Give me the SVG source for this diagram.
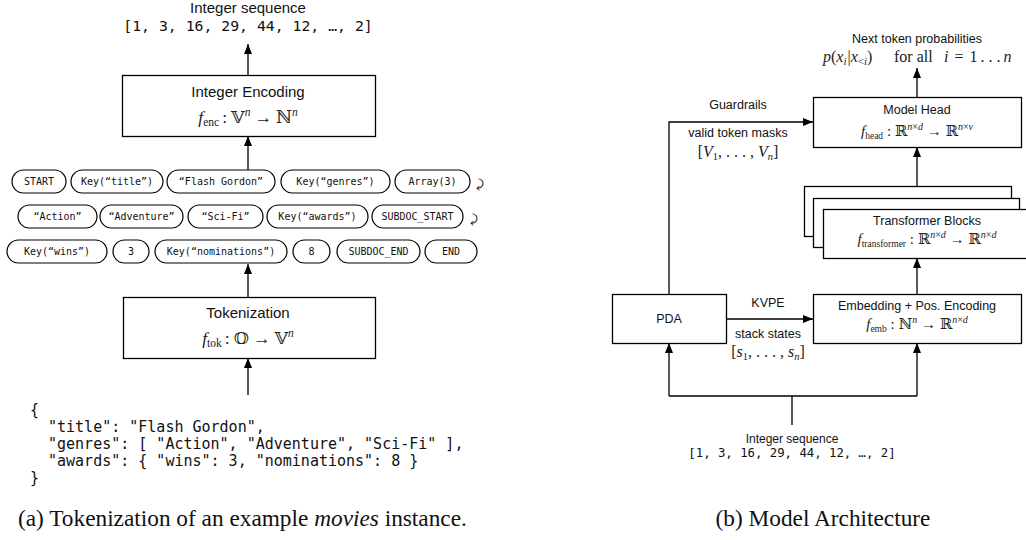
<svg xmlns="http://www.w3.org/2000/svg" width="1026" height="540" viewBox="0 0 1026 540">
  <style>
    .box { fill: #fff; stroke: #000; stroke-width: 1.3; }
    .pill { fill: #fff; stroke: #000; stroke-width: 1.2; }
    .ln { fill: none; stroke: #000; stroke-width: 1.3; }
    .arr { fill: none; stroke: #000; stroke-width: 1.3; marker-end: url(#ah); }
    .lbl { font-family: "Liberation Sans", Arial, sans-serif; fill: #111; text-anchor: middle; }
    .big { font-size: 15px; }
    .sm { font-size: 12.5px; }
    .mono { font-family: "DejaVu Sans Mono", "Liberation Mono", monospace; fill: #111; }
    .tok { font-family: "DejaVu Sans Mono", "Liberation Mono", monospace; font-size: 10px; fill: #111; text-anchor: middle; }
    .math { font-family: "Liberation Serif", "DejaVu Serif", serif; fill: #222; text-anchor: middle; }
    .math.st { text-anchor: start; }
    .it { font-style: italic; }
    .cap { font-family: "Liberation Serif", "Times New Roman", serif; font-size: 23.3px; fill: #111; }
  </style>
  <defs>
    <marker id="ah" viewBox="0 0 10 8" refX="10" refY="4" markerWidth="10" markerHeight="8" orient="auto" markerUnits="userSpaceOnUse">
      <path d="M0,0 L10,4 L0,8 z" fill="#000"/>
    </marker>
  </defs>

  <!-- ===== (a) tokenization pipeline ===== -->
  <g id="connectors-a">
    <path class="arr" d="M248,75 V44"/>
    <path class="arr" d="M248,170 V136"/>
    <path class="arr" d="M248,297 V264"/>
    <path class="arr" d="M248,395 V358"/>
  </g>

  <g id="int-seq-out">
    <text class="lbl big" x="248" y="13">Integer sequence</text>
    <text class="mono" x="248" y="31" font-size="14.8" text-anchor="middle">[1, 3, 16, 29, 44, 12, …, 2]</text>
  </g>

  <g id="integer-encoding">
    <rect class="box" x="122.5" y="75.5" width="253" height="61"/>
    <text class="lbl big" x="248" y="97">Integer Encoding</text>
    <text class="math" x="248" y="123" font-size="17.5"><tspan class="it">f</tspan><tspan font-size="11.5" dy="3">enc</tspan><tspan dy="-3" dx="3">:</tspan><tspan dx="4">𝕍</tspan><tspan class="it" font-size="11.5" dy="-7">n</tspan><tspan dy="7" dx="4">→</tspan><tspan dx="4">ℕ</tspan><tspan class="it" font-size="11.5" dy="-7">n</tspan></text>
  </g>

  <g id="tokens-row1">
    <rect class="pill" x="12" y="170" width="54" height="23" rx="11.5"/><text class="tok" x="39" y="185">START</text>
    <rect class="pill" x="71" y="170" width="92" height="23" rx="11.5"/><text class="tok" x="117" y="185">Key(“title”)</text>
    <rect class="pill" x="167" y="170" width="108" height="23" rx="11.5"/><text class="tok" x="221" y="185">“Flash Gordon”</text>
    <rect class="pill" x="281" y="170" width="109" height="23" rx="11.5"/><text class="tok" x="335.5" y="185">Key(“genres”)</text>
    <rect class="pill" x="395" y="170" width="75" height="23" rx="11.5"/><text class="tok" x="432.5" y="185">Array(3)</text>
    <text class="mono" x="479" y="188" font-size="12" text-anchor="middle">⤸</text>
  </g>
  <g id="tokens-row2">
    <rect class="pill" x="18" y="205" width="79" height="23" rx="11.5"/><text class="tok" x="57.5" y="220">“Action”</text>
    <rect class="pill" x="100" y="205" width="83" height="23" rx="11.5"/><text class="tok" x="141.5" y="220">“Adventure”</text>
    <rect class="pill" x="188" y="205" width="75" height="23" rx="11.5"/><text class="tok" x="225.5" y="220">“Sci-Fi”</text>
    <rect class="pill" x="267" y="205" width="101" height="23" rx="11.5"/><text class="tok" x="317.5" y="220">Key(“awards”)</text>
    <rect class="pill" x="372" y="205" width="91" height="23" rx="11.5"/><text class="tok" x="417.5" y="220">SUBDOC_START</text>
    <text class="mono" x="473" y="223" font-size="12" text-anchor="middle">⤸</text>
  </g>
  <g id="tokens-row3">
    <rect class="pill" x="7" y="240" width="100" height="23" rx="11.5"/><text class="tok" x="57" y="255">Key(“wins”)</text>
    <rect class="pill" x="113" y="240" width="36" height="23" rx="11.5"/><text class="tok" x="131" y="255">3</text>
    <rect class="pill" x="155" y="240" width="132" height="23" rx="11.5"/><text class="tok" x="221" y="255">Key(“nominations”)</text>
    <rect class="pill" x="293" y="240" width="37" height="23" rx="11.5"/><text class="tok" x="311.5" y="255">8</text>
    <rect class="pill" x="337" y="240" width="83" height="23" rx="11.5"/><text class="tok" x="378.5" y="255">SUBDOC_END</text>
    <rect class="pill" x="425" y="240" width="52" height="23" rx="11.5"/><text class="tok" x="451" y="255">END</text>
  </g>

  <g id="tokenization">
    <rect class="box" x="123.5" y="297.5" width="252" height="61"/>
    <text class="lbl big" x="248" y="318">Tokenization</text>
    <text class="math" x="248" y="344" font-size="17.5"><tspan class="it">f</tspan><tspan font-size="11.5" dy="3">tok</tspan><tspan dy="-3" dx="3">:</tspan><tspan dx="4">𝕆</tspan><tspan dx="4">→</tspan><tspan dx="4">𝕍</tspan><tspan class="it" font-size="11.5" dy="-7">n</tspan></text>
  </g>

  <g id="json-doc">
    <text class="mono" font-size="15" x="30" y="415">{</text>
    <text class="mono" font-size="15" x="48" y="432">"title": "Flash Gordon",</text>
    <text class="mono" font-size="15" x="48" y="449">"genres": [ "Action", "Adventure", "Sci-Fi" ],</text>
    <text class="mono" font-size="15" x="48" y="466">"awards": { "wins": 3, "nominations": 8 }</text>
    <text class="mono" font-size="15" x="30" y="483">}</text>
  </g>

  <text id="caption-a" class="cap" x="18" y="526">(a) Tokenization of an example <tspan font-style="italic">movies</tspan> instance.</text>

  <!-- ===== (b) model architecture ===== -->
  <g id="connectors-b">
    <path class="arr" d="M917,97 V68"/>
    <path class="arr" d="M669,294 V122 H813"/>
    <path class="arr" d="M917,186 V147"/>
    <path class="arr" d="M917,294 V258"/>
    <path class="arr" d="M726,319 H813"/>
    <path class="ln" d="M792,425 V396 M669,396 H917"/>
    <path class="arr" d="M669,396 V343"/>
    <path class="arr" d="M917,396 V343"/>
  </g>

  <g id="next-token">
    <text class="lbl sm" x="917" y="43">Next token probabilities</text>
    <text class="math st" x="823" y="62" font-size="16"><tspan class="it">p</tspan>(<tspan class="it">x</tspan><tspan class="it" font-size="11" dy="3">i</tspan><tspan dy="-3" dx="1">|</tspan><tspan class="it">x</tspan><tspan font-size="11" dy="3">&lt;</tspan><tspan class="it" font-size="11">i</tspan><tspan dy="-3">)</tspan></text>
    <text class="math st" x="894" y="62" font-size="16">for all</text>
    <text class="math st" x="944" y="62" font-size="16"><tspan class="it">i</tspan><tspan dx="6">=</tspan><tspan dx="6">1</tspan><tspan dx="3">. . .</tspan><tspan class="it" dx="3">n</tspan></text>
  </g>

  <g id="model-head">
    <rect class="box" x="813.5" y="97.5" width="208" height="50"/>
    <text class="lbl sm" x="917" y="114">Model Head</text>
    <text class="math" x="917" y="136" font-size="15"><tspan class="it">f</tspan><tspan font-size="9.5" dy="3">head</tspan><tspan dy="-3"> : ℝ</tspan><tspan class="it" font-size="10" dy="-6">n</tspan><tspan font-size="10">×</tspan><tspan class="it" font-size="10">d</tspan><tspan dy="6"> → ℝ</tspan><tspan class="it" font-size="10" dy="-6">n</tspan><tspan font-size="10">×</tspan><tspan class="it" font-size="10">v</tspan></text>
  </g>

  <g id="guardrails-labels">
    <text class="lbl sm" x="738" y="109">Guardrails</text>
    <text class="lbl sm" x="738" y="137">valid token masks</text>
    <text class="math" x="738" y="157" font-size="16">[<tspan class="it">V</tspan><tspan font-size="10.5" dy="3">1</tspan><tspan dy="-3">, . . . , </tspan><tspan class="it">V</tspan><tspan class="it" font-size="10.5" dy="3">n</tspan><tspan dy="-3">]</tspan></text>
  </g>

  <g id="transformer-blocks">
    <rect class="box" x="804.5" y="186.5" width="207" height="50"/>
    <rect class="box" x="813.5" y="198.5" width="206" height="49"/>
    <rect class="box" x="823.5" y="209.5" width="210" height="49"/>
    <text class="lbl sm" x="927" y="225">Transformer Blocks</text>
    <text class="math" x="927" y="244" font-size="15"><tspan class="it">f</tspan><tspan font-size="9.5" dy="3">transformer</tspan><tspan dy="-3"> : ℝ</tspan><tspan class="it" font-size="10" dy="-6">n</tspan><tspan font-size="10">×</tspan><tspan class="it" font-size="10">d</tspan><tspan dy="6"> → ℝ</tspan><tspan class="it" font-size="10" dy="-6">n</tspan><tspan font-size="10">×</tspan><tspan class="it" font-size="10">d</tspan></text>
  </g>

  <g id="pda">
    <rect class="box" x="612.5" y="294.5" width="114" height="49"/>
    <text class="lbl sm" x="669" y="323">PDA</text>
  </g>

  <g id="kvpe-labels">
    <text class="lbl sm" x="768" y="307">KVPE</text>
    <text class="lbl sm" x="768" y="338">stack states</text>
    <text class="math" x="768" y="357" font-size="16">[<tspan class="it">s</tspan><tspan font-size="10.5" dy="3">1</tspan><tspan dy="-3">, . . . , </tspan><tspan class="it">s</tspan><tspan class="it" font-size="10.5" dy="3">n</tspan><tspan dy="-3">]</tspan></text>
  </g>

  <g id="embedding">
    <rect class="box" x="813.5" y="294.5" width="208" height="49"/>
    <text class="lbl sm" x="917" y="310">Embedding + Pos. Encoding</text>
    <text class="math" x="917" y="329" font-size="15"><tspan class="it">f</tspan><tspan font-size="9.5" dy="3">emb</tspan><tspan dy="-3"> : ℕ</tspan><tspan class="it" font-size="10" dy="-6">n</tspan><tspan dy="6"> → ℝ</tspan><tspan class="it" font-size="10" dy="-6">n</tspan><tspan font-size="10">×</tspan><tspan class="it" font-size="10">d</tspan></text>
  </g>

  <g id="int-seq-in">
    <text class="lbl" x="792" y="443" font-size="12">Integer sequence</text>
    <text class="mono" x="792" y="457" font-size="12.3" text-anchor="middle">[1, 3, 16, 29, 44, 12, …, 2]</text>
  </g>

  <text id="caption-b" class="cap" x="823" y="526" text-anchor="middle">(b) Model Architecture</text>
</svg>
